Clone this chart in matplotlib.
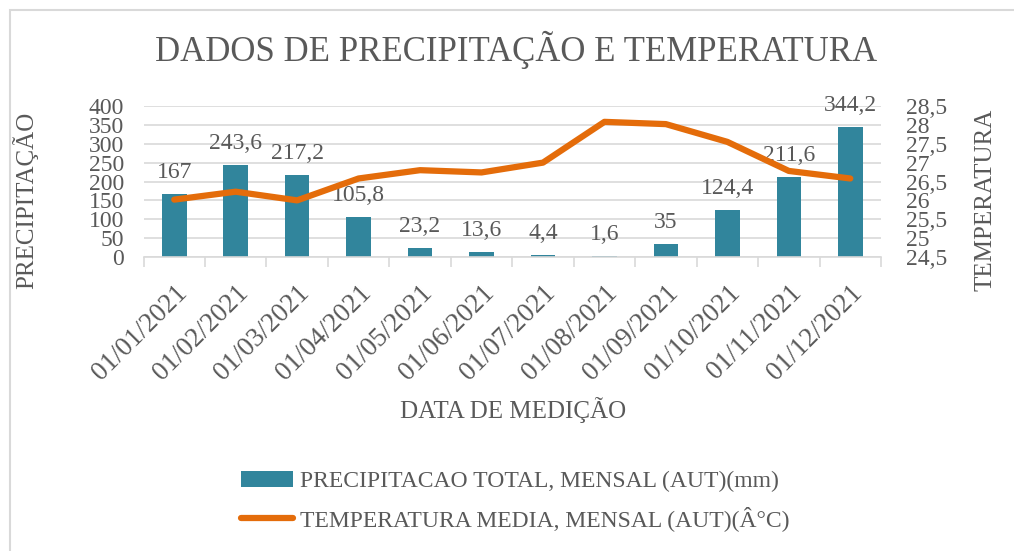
import matplotlib.pyplot as plt
from matplotlib.patches import Rectangle

plt.rcParams['font.family'] = ['Liberation Serif', 'DejaVu Serif']

dates = ['01/01/2021', '01/02/2021', '01/03/2021', '01/04/2021', '01/05/2021', '01/06/2021',
         '01/07/2021', '01/08/2021', '01/09/2021', '01/10/2021', '01/11/2021', '01/12/2021']
precip = [167, 243.6, 217.2, 105.8, 23.2, 13.6, 4.4, 1.6, 35, 124.4, 211.6, 344.2]
temp = [26.02, 26.23, 26.0, 26.58, 26.8, 26.74, 27.0, 28.08, 28.02, 27.55, 26.78, 26.58]

txt = '#595959'
bar_color = '#31859C'
line_color = '#E46C0A'

fig = plt.figure(figsize=(10.14, 5.51), dpi=100)
fig.patches.append(Rectangle((10 / 1014, -0.1), 1.2, 1 - 10 / 551 + 0.1, transform=fig.transFigure,
                             fill=False, edgecolor='#D9D9D9', linewidth=1.5))

ax = fig.add_axes([143.5 / 1014, 1 - 257 / 551, (881 - 143.5) / 1014, 151 / 551])
x = list(range(len(dates)))
bars = ax.bar(x, precip, width=0.4, color=bar_color, zorder=2,
              label='PRECIPITACAO TOTAL, MENSAL (AUT)(mm)')
ax.set_ylim(0, 400)
ax.set_xlim(-0.5, len(dates) - 0.5)
ax.set_yticks(range(0, 401, 50))
ax.yaxis.grid(True, color='#D9D9D9', linewidth=1.2, zorder=0)
ax.set_axisbelow(True)
for s in ['top', 'right', 'left']:
    ax.spines[s].set_visible(False)
ax.spines['bottom'].set_color('#D9D9D9')
ax.spines['bottom'].set_linewidth(1.2)
ax.tick_params(axis='y', length=0, labelsize=17, labelcolor=txt, pad=14)
ax.set_xticks(x)
ax.set_xticklabels(dates, rotation=45, ha='right', rotation_mode='anchor',
                   fontsize=19.5, color=txt)
ax.tick_params(axis='x', length=0, pad=17)
ax.set_xticks([i - 0.5 for i in range(len(dates) + 1)], minor=True)
ax.tick_params(axis='x', which='minor', length=7, color='#D9D9D9', width=1.2)

for xi, v in zip(x, precip):
    lab = ('%g' % v).replace('.', ',')
    ax.annotate(lab, (xi, v), xytext=(0, 8), textcoords='offset points',
                ha='center', va='bottom', fontsize=17, color=txt)

ax2 = ax.twinx()
ax2.plot(x, temp, color=line_color, linewidth=4.5, solid_capstyle='round', zorder=3,
         label='TEMPERATURA MEDIA, MENSAL (AUT)(Â°C)')
ax2.set_ylim(24.5, 28.5)
ax2.set_yticks([24.5 + 0.5 * i for i in range(9)])
ax2.set_yticklabels([('%g' % (24.5 + 0.5 * i)).replace('.', ',') for i in range(9)])
for s in ['top', 'right', 'left', 'bottom']:
    ax2.spines[s].set_visible(False)
ax2.tick_params(axis='y', length=0, labelsize=17, labelcolor=txt, pad=18)

fig.text(516 / 1014, 1 - 50 / 551, 'DADOS DE PRECIPITAÇÃO E TEMPERATURA', ha='center', va='center',
         fontsize=25, color=txt)
fig.text(25 / 1014, 1 - 200 / 551, 'PRECIPITAÇÃO', rotation=90, ha='center', va='center',
         fontsize=18, color=txt)
fig.text(985 / 1014, 1 - 200 / 551, 'TEMPERATURA', rotation=90, ha='center', va='center',
         fontsize=18, color=txt)
fig.text(513 / 1014, 1 - 410 / 551, 'DATA DE MEDIÇÃO', ha='center', va='center',
         fontsize=18, color=txt)

h1, l1 = ax.get_legend_handles_labels()
h2, l2 = ax2.get_legend_handles_labels()
fig.legend(h1 + h2, l1 + l2, loc='center', bbox_to_anchor=(515 / 1014, 1 - 501 / 551),
           ncol=1, frameon=False, fontsize=17, labelcolor=txt, handlelength=2.2,
           handletextpad=0.3, labelspacing=0.6)

fig.savefig('out.png', dpi=100)
